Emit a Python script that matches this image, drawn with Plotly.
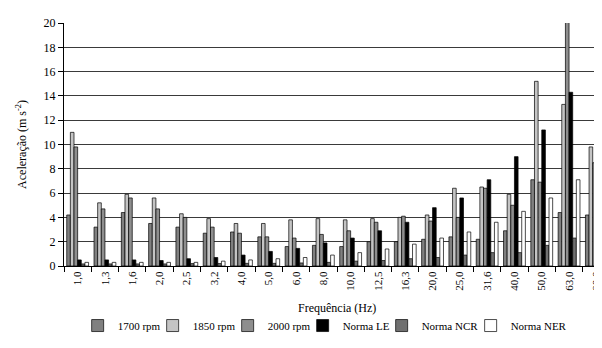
import plotly.graph_objects as go

categories = ["1,0", "1,3", "1,6", "2,0", "2,5", "3,2", "4,0", "5,0", "6,0", "8,0",
              "10,0", "12,5", "16,3", "20,0", "25,0", "31,6", "40,0", "50,0", "63,0", "80,0"]

rpm1700 = [4.2, 3.2, 4.4, 3.5, 3.2, 2.7, 2.8, 2.4, 1.6, 1.7, 1.6, 2.0, 2.0, 2.2, 2.4, 2.2, 2.9, 7.1, 4.4, 4.2]
rpm1850 = [11.0, 5.2, 5.9, 5.6, 4.3, 3.9, 3.5, 3.5, 3.8, 3.9, 3.8, 3.9, 4.0, 4.2, 6.4, 6.5, 5.9, 15.2, 13.3, 9.8]
rpm2000 = [9.8, 4.7, 5.6, 4.7, 4.0, 3.2, 2.7, 2.4, 2.3, 2.6, 2.9, 3.6, 4.1, 3.7, 4.0, 6.4, 5.0, 6.9, 20.5, 8.5]
norma_le = [0.5, 0.5, 0.5, 0.45, 0.6, 0.7, 0.9, 1.2, 1.45, 1.9, 2.3, 2.9, 3.6, 4.8, 5.6, 7.1, 9.0, 11.2, 14.3, 18.0]
norma_ncr = [0.17, 0.17, 0.17, 0.17, 0.2, 0.2, 0.22, 0.22, 0.25, 0.3, 0.4, 0.45, 0.6, 0.7, 0.9, 1.1, 1.1, 1.7, 2.3, 2.9]
norma_ner = [0.3, 0.3, 0.3, 0.3, 0.3, 0.4, 0.5, 0.6, 0.7, 0.9, 1.1, 1.4, 1.8, 2.3, 2.8, 3.6, 4.5, 5.6, 7.1, 9.0]

series = [
    ("1700 rpm", rpm1700, "#808080", 30),
    ("1850 rpm", rpm1850, "#c4c4c4", 30),
    ("2000 rpm", rpm2000, "#8e8e8e", 30),
    ("Norma LE", norma_le, "#000000", 34),
    ("Norma NCR", norma_ncr, "#707070", 44),
    ("Norma NER", norma_ner, "#ffffff", 58),
]

font = "Liberation Serif"

fig = go.Figure()
for name, vals, col, lw in series:
    fig.add_trace(go.Bar(
        x=categories, y=vals, name=name, legendwidth=lw,
        marker=dict(color=col, line=dict(color="#000000", width=0.7)),
    ))

fig.update_layout(
    width=602, height=348,
    margin=dict(l=56, r=0, t=15, b=90),
    paper_bgcolor="white", plot_bgcolor="white",
    barmode="group", bargap=0.2, bargroupgap=0,
    font=dict(family=font, size=11, color="#000000"),
    showlegend=True,
    legend=dict(orientation="h", x=0.025, xanchor="left", y=-0.245, yanchor="middle",
                font=dict(family=font, size=11), itemwidth=30,
                bgcolor="rgba(0,0,0,0)"),
    xaxis=dict(
        type="category", tickson="boundaries", ticks="outside", ticklen=5,
        tickcolor="#000", showline=True, linecolor="#000", linewidth=1,
        tickangle=-90, tickfont=dict(family=font, size=11), showgrid=False,
    ),
    yaxis=dict(
        range=[0, 20], dtick=2, ticks="outside", ticklen=5, tickcolor="#000",
        showline=True, linecolor="#000", linewidth=1,
        showgrid=True, gridcolor="#3a3a3a", gridwidth=1,
        tickfont=dict(family=font, size=12), zeroline=False,
    ),
    annotations=[
        dict(text="Frequência (Hz)", x=0.5, xref="paper", y=-0.172, yref="paper",
             xanchor="center", yanchor="middle", showarrow=False,
             font=dict(family=font, size=12)),
        dict(text="Aceleração (m s<sup>-2</sup>)", x=-0.078, xref="paper", y=0.5, yref="paper",
             textangle=-90, showarrow=False, xanchor="center", yanchor="middle",
             font=dict(family=font, size=12)),
    ],
)

fig.write_html("out.html")
